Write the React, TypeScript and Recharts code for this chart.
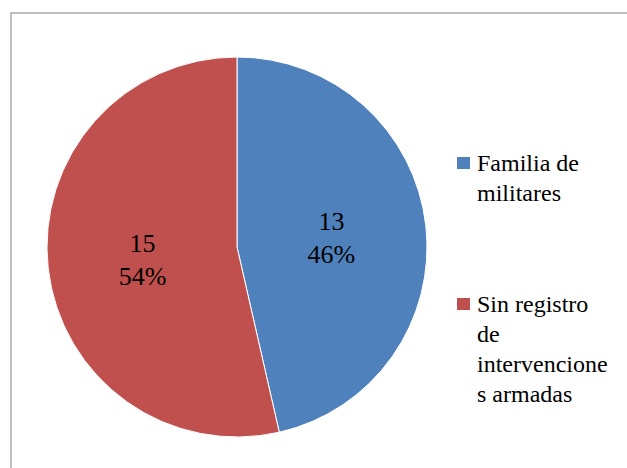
import React from "react";
import { PieChart, Pie, Cell, Legend } from "recharts";

const categories = ["Familia de militares", "Sin registro de intervenciones armadas"];
const values = [13, 15];
const colors = ["#4F81BD", "#C0504D"];
const legendLines = [
  ["Familia de", "militares"],
  ["Sin registro", "de", "intervencione", "s armadas"],
];

const data = categories.map((name, i) => ({ name, value: values[i] }));
const total = values.reduce((a, b) => a + b, 0);
const FONT = "Liberation Serif";
const RAD = Math.PI / 180;

const renderLabel = (props: any) => {
  const { cx, cy, midAngle, outerRadius, value } = props;
  const r = outerRadius * 0.5;
  const x = cx + r * Math.cos(-midAngle * RAD);
  const y = cy + r * Math.sin(-midAngle * RAD);
  const pct = Math.round((value / total) * 100) + "%";
  return (
    <text x={x} y={y} textAnchor="middle" fill="#000" fontFamily={FONT} fontSize={26} className="serif-text">
      <tspan x={x} y={y - 6}>{value}</tspan>
      <tspan x={x} y={y + 27}>{pct}</tspan>
    </text>
  );
};

const renderLegend = () => (
  <div className="serif-text" style={{ fontFamily: FONT, fontSize: 24, lineHeight: "30px", color: "#000" }}>
    {legendLines.map((lines, i) => (
      <div key={i} style={{ position: "relative", paddingLeft: 20, marginBottom: i === 0 ? 81 : 0 }}>
        <span
          style={{
            position: "absolute",
            left: 0,
            top: 9,
            width: 13,
            height: 12,
            background: colors[i],
          }}
        />
        {lines.map((l, j) => (
          <div key={j} style={{ whiteSpace: "nowrap" }}>{l}</div>
        ))}
      </div>
    ))}
  </div>
);

export default function App() {
  return (
    <div
      style={{
        position: "absolute",
        left: 0,
        top: 0,
        width: 627,
        height: 468,
        overflow: "hidden",
        background: "#fff",
      }}
    >
      <style>{`.serif-text, .serif-text * { font-family: "Liberation Serif", serif !important; }`}</style>
      <div
        style={{
          position: "absolute",
          left: 10,
          top: 12,
          width: 800,
          height: 800,
          borderLeft: "2px solid #BFBFBF",
          borderTop: "2px solid #BFBFBF",
        }}
      />
      <div style={{ position: "absolute", left: 0, top: 0 }}>
        <PieChart width={627} height={468} margin={{ top: 0, right: 0, bottom: 0, left: 0 }}>
          <Pie
            data={data}
            dataKey="value"
            nameKey="name"
            cx={237}
            cy={247}
            outerRadius={190}
            startAngle={90}
            endAngle={-270}
            stroke="#fff"
            strokeWidth={1}
            label={renderLabel}
            labelLine={false}
            isAnimationActive={false}
          >
            {data.map((d, i) => (
              <Cell key={d.name} fill={colors[i]} />
            ))}
          </Pie>
          <Legend
            layout="vertical"
            content={renderLegend}
            wrapperStyle={{ position: "absolute", left: 457, top: 148, width: 170 }}
          />
        </PieChart>
      </div>
    </div>
  );
}
